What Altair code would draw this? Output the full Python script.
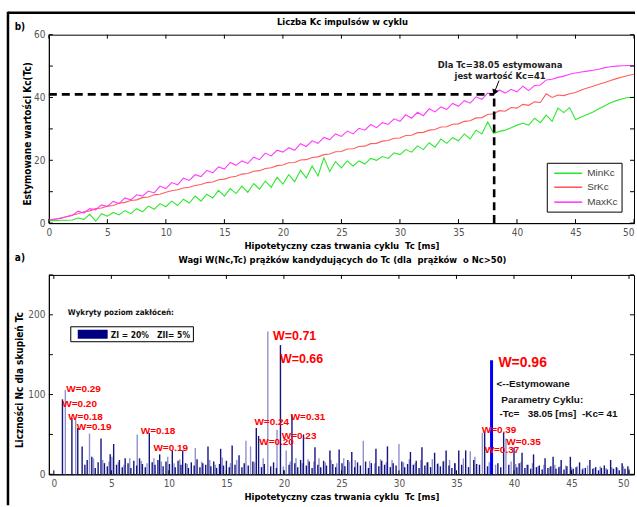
import altair as alt
import pandas as pd

# ---------------- data: upper panel ----------------
TC = [0, 0.5, 1, 1.5, 2, 2.5, 3, 3.5, 4, 4.5, 5, 5.5, 6, 6.5, 7, 7.5, 8, 8.5, 9, 9.5,
      10, 10.5, 11, 11.5, 12, 12.5, 13, 13.5, 14, 14.5, 15, 15.5, 16, 16.5, 17, 17.5, 18, 18.5, 19, 19.5,
      20, 20.5, 21, 21.5, 22, 22.5, 23, 23.5, 24, 24.5, 25, 25.5, 26, 26.5, 27, 27.5, 28, 28.5, 29, 29.5,
      30, 30.5, 31, 31.5, 32, 32.5, 33, 33.5, 34, 34.5, 35, 35.5, 36, 36.5, 37, 37.5, 38, 38.5, 39, 39.5,
      40, 40.5, 41, 41.5, 42, 42.5, 43, 43.5, 44, 44.5, 45, 45.5, 46, 46.5, 47, 47.5, 48, 48.5, 49, 49.5, 50]

MIN_KC = [0.8, 0.8, 0.9, 0.9, 1.0, 1.6, 1.2, 2.8, 0.6, 3.0,
          2.2, 3.4, 2.6, 4.0, 3.0, 4.6, 3.6, 5.4, 4.4, 6.2,
          5.2, 7.0, 5.6, 7.6, 6.4, 8.6, 7.0, 9.2, 8.0, 10.4,
          8.6, 11.0, 9.4, 11.8, 9.8, 12.6, 10.8, 13.4, 11.4, 14.6,
          12.4, 15.4, 13.2, 16.8, 14.4, 18.2, 15.0, 20.8, 16.4, 19.6,
          17.6, 19.8, 18.2, 19.8, 18.8, 20.6, 20.0, 21.2, 20.6, 22.4,
          21.8, 23.4, 22.6, 24.6, 23.4, 25.6, 24.2, 26.8, 25.4, 27.2,
          26.2, 28.4, 26.8, 29.6, 28.4, 32.2, 28.6, 29.2, 29.6, 30.4,
          31.2, 31.8, 31.2, 33.4, 32.0, 34.4, 32.4, 36.6, 35.2, 36.8,
          33.0, 33.8, 34.6, 35.4, 36.4, 37.4, 38.3, 39.0, 39.6, 40.0,
          40.1]

SR_KC = [1.0, 1.2, 1.5, 2.0, 2.6, 3.0, 3.6, 3.9, 4.6, 4.8,
         5.4, 5.6, 6.3, 6.6, 7.2, 7.4, 8.1, 8.3, 9.0, 9.2,
         9.8, 10.3, 10.6, 11.2, 11.4, 12.0, 12.3, 12.9, 13.1, 13.8,
         14.0, 14.6, 14.9, 15.6, 15.8, 16.5, 16.7, 17.4, 17.6, 18.3,
         18.5, 19.2, 19.3, 20.1, 20.2, 20.9, 21.1, 21.8, 22.0, 22.7,
         22.8, 23.6, 23.7, 24.4, 24.5, 25.3, 25.4, 26.1, 26.3, 27.0,
         27.1, 27.9, 28.0, 28.8, 28.9, 29.6, 29.8, 30.6, 30.7, 31.5,
         31.6, 32.4, 32.6, 33.5, 33.6, 34.6, 34.8, 35.8, 35.6, 36.8,
         36.6, 37.8, 37.5, 38.6, 38.4, 41.2, 40.0, 40.8, 40.6, 41.2,
         41.6, 42.4, 43.0, 43.6, 44.2, 44.8, 45.4, 46.0, 46.5, 47.0,
         47.4]

MAX_KC = [1.0, 1.3, 1.6, 2.0, 2.4, 3.8, 3.2, 4.6, 4.2, 5.8,
          5.3, 6.9, 6.2, 8.0, 7.4, 9.0, 8.6, 10.2, 9.6, 11.8,
          11.0, 12.9, 12.2, 14.3, 13.6, 15.4, 14.8, 16.8, 16.0, 17.9,
          17.2, 19.3, 18.4, 19.8, 19.0, 21.0, 20.2, 22.3, 21.4, 23.2,
          22.6, 24.0, 23.2, 25.3, 24.4, 26.2, 25.4, 27.3, 26.6, 28.4,
          27.6, 29.3, 28.4, 30.2, 29.6, 31.4, 30.4, 32.0, 31.4, 33.2,
          32.4, 34.5, 33.4, 35.3, 34.2, 36.4, 35.4, 37.0, 36.2, 38.1,
          37.2, 39.0, 38.2, 40.2, 39.4, 41.4, 41.0, 42.4, 41.4, 42.6,
          41.8, 43.6, 42.2, 43.8, 44.0, 45.6, 45.8, 46.4, 46.8, 47.4,
          47.8, 48.1, 48.4, 48.7, 49.0, 49.5, 49.8, 50.0, 50.1, 50.2,
          50.2]

SERIES = ["MinKc", "SrKc", "MaxKc"]
COLORS = ["#2ee82e", "#ff5c5c", "#ff3dff"]
TC_EST = 38.05
KC_EST = 41

X_TICKS = [0, 5, 10, 15, 20, 25, 30, 35, 40, 45, 50]
Y_TICKS_UP = [0, 10, 20, 30, 40, 50, 60]
Y_TICKS_LO = [0, 50, 100, 150, 200, 250]

ANN_UP_TEXT = ["Dla Tc=38.05 estymowana", "jest wartość Kc=41"]
ANN_UP_X = [38.56, 38.56]
ANN_UP_Y = [50.5, 46.8]
ARROW_TAIL = (38.47, 45.4)
ARROW_HEAD = (38.07, 41.6)

# ---------------- data: lower panel ----------------
DARK_X = [0.75, 1.57, 2.08, 2.46, 2.7, 2.9, 3.3, 3.6, 3.85, 4.1, 4.4, 4.65, 4.9, 5.2, 5.45, 5.7, 5.95,
          6.2, 6.45, 6.7, 6.95, 7.2, 7.45, 7.7, 7.95, 8.3, 8.55, 8.8, 9.05, 9.2, 9.5, 9.75, 10.05,
          10.3, 10.55, 10.8, 11.05, 11.2, 11.45, 11.7, 11.95, 12.2, 12.45, 12.7, 12.95, 13.2, 13.4,
          13.65, 13.9, 14.15, 14.4, 14.5, 14.75, 15.0, 15.25, 15.5, 15.75, 16.1, 16.35, 16.55, 16.9,
          17.3, 17.6, 17.8, 18.05, 18.3, 18.85, 19.1, 19.35, 19.7, 20.0, 20.45, 20.7, 20.95, 21.2,
          21.45, 21.7, 21.95, 22.2, 22.45, 22.7, 22.95, 23.2, 23.45, 23.7, 24.0, 24.25, 24.5, 24.8,
          25.05, 25.3, 25.55, 25.9, 26.15, 26.4, 26.65, 27.1, 27.35, 27.6, 28.0, 28.25, 28.5, 28.75,
          29.0, 29.25, 29.5, 29.75, 30.25, 30.5, 30.75, 31.0, 31.25, 31.5, 31.75, 32.0, 32.25, 32.5,
          32.75, 33.1, 33.35, 33.6, 33.85, 34.1, 34.35, 34.6, 34.85, 35.2, 35.45, 35.8, 36.05, 36.5,
          36.75, 37.0, 37.45, 37.7, 38.6, 38.85, 39.1, 39.55, 40.0, 40.25, 40.45, 40.7, 40.95, 41.2,
          41.45, 41.7, 41.95, 42.2, 42.45, 42.7, 42.95, 43.2, 43.4, 43.65, 43.9, 44.1, 44.35, 44.6,
          44.9, 45.15, 45.4, 45.7, 45.95, 46.2, 46.6, 46.85, 47.1, 47.35, 47.6, 47.85, 48.1, 48.4,
          48.65, 48.9, 49.15, 49.4, 49.65, 49.9]
DARK_N = [94, 71, 58, 35, 12, 18, 22, 8, 15, 45, 14, 10, 25, 38, 12, 18, 9,
          20, 14, 8, 17, 11, 20, 13, 9, 52, 15, 12, 18, 25, 10, 16, 13,
          30, 9, 17, 12, 30, 14, 8, 15, 11, 19, 9, 14, 12, 35,
          10, 16, 8, 13, 32, 11, 17, 9, 36, 12, 24, 9, 14, 11,
          16, 58, 48, 9, 13, 10, 15, 8, 162, 5, 12, 75, 14, 9,
          18, 50, 11, 16, 8, 34, 12, 9, 17, 11, 30, 13, 9, 31,
          14, 10, 18, 28, 9, 15, 11, 16, 8, 14, 32, 10, 17, 12,
          35, 9, 14, 11, 16, 9, 13, 28, 12, 17, 8, 34, 11, 15,
          9, 27, 13, 10, 16, 30, 11, 8, 14, 30, 12, 30, 9, 18,
          13, 12, 54, 10, 14, 9, 52, 12, 33, 9, 14, 27, 8, 12,
          7, 25, 9, 11, 6, 20, 8, 10, 22, 7, 9, 18, 6, 10,
          22, 7, 9, 15, 6, 8, 18, 7, 9, 5, 8, 11, 6, 18,
          7, 9, 5, 14, 7, 10]

LIGHT_X = [1.0, 1.9, 3.1, 3.45, 4.25, 4.8, 5.05, 5.6, 6.1, 6.6, 7.25, 7.6, 8.1, 8.7, 9.35, 9.9,
           10.45, 10.95, 11.6, 12.3, 12.85, 13.55, 14.05, 14.65, 15.35, 15.9, 16.7, 17.1, 17.45,
           18.2, 18.6, 19.4, 19.95, 20.2, 20.55, 21.05, 21.6, 22.1, 22.6, 23.05, 23.6, 24.1, 24.6,
           25.2, 25.7, 26.2, 26.9, 27.45, 27.9, 28.4, 28.9, 29.4, 30.0, 30.4, 30.9, 31.4, 31.9,
           32.4, 32.9, 33.4, 33.9, 34.4, 34.9, 35.6, 36.2, 36.6, 37.25, 37.85, 38.4, 39.3, 39.75,
           40.15, 40.6, 41.1, 41.6, 42.1, 42.6, 43.1, 43.55, 44.0, 44.5, 45.0, 45.5, 46.0, 46.4,
           46.95, 47.5, 48.0, 48.5, 49.0, 49.5, 50.0]
LIGHT_N = [106, 68, 51, 20, 18, 16, 22, 15, 12, 20, 50, 17, 14, 20, 16, 22,
           14, 19, 13, 33, 16, 18, 12, 21, 14, 18, 42, 35, 15,
           20, 179, 56, 10, 30, 16, 20, 14, 19, 16, 20, 15, 18, 14,
           20, 16, 18, 42, 17, 14, 19, 15, 18, 38, 15, 19, 14, 18,
           15, 19, 14, 17, 18, 14, 20, 29, 22, 52, 15, 12, 45, 16,
           13, 15, 12, 14, 10, 12, 9, 12, 10, 11, 9, 10, 8, 11,
           8, 10, 8, 9, 8, 10, 7]

BEST_X = [38.05]
BEST_N = [143]

W_SMALL_TEXT = ["W=0.29", "W=0.20", "W=0.18", "W=0.19", "W=0.18", "W=0.19", "W=0.24",
                "W=0.20", "W=0.31", "W=0.23", "W=0.39", "W=0.37", "W=0.35"]
W_SMALL_X = [1.08, 0.74, 1.25, 2.0, 7.56, 8.66, 17.44, 17.86, 20.59, 19.82, 37.2, 37.45, 39.33]
W_SMALL_Y = [107.5, 88.75, 71.25, 58.75, 53.75, 32.5, 65, 40, 71.25, 47.5, 55, 30, 40]
W_BIG_TEXT = ["W=0.71", "W=0.66"]
W_BIG_X = [19.05, 19.65]
W_BIG_Y = [173.75, 145]
W_BEST_TEXT = ["W=0.96"]
W_BEST_X = [38.65]
W_BEST_Y = [140]

NB = "\u00a0"
ANN_LO_TEXT = ["<--Estymowane", "Parametry Cyklu:", "-Tc=" + NB * 3 + "38.05 [ms]" + NB * 2 + "-Kc= 41"]
ANN_LO_X = [38.48, 38.9, 38.73]
ANN_LO_Y = [113.75, 93.75, 75]

NOISE_TITLE = "Wykryty poziom zakłóceń:"
NOISE_TEXT = "ZI = 20%" + NB * 3 + "ZII= 5%"

TITLE_UP = "Liczba Kc impulsów w cyklu"
TITLE_LO = "Wagi W(Nc,Tc) prążków kandydujących do Tc (dla" + NB * 2 + "prążków" + NB * 2 + "o Nc>50)"
XTITLE = "Hipotetyczny czas trwania cyklu" + NB * 2 + "Tc [ms]"
YTITLE_UP = "Estymowane wartości Kc(Tc)"
YTITLE_LO = "Liczności Nc dla skupień Tc"

# ---------------- styling ----------------
FN = "Liberation Sans Narrow, DejaVu Sans Condensed, Arial Narrow, sans-serif"
FA = "Liberation Sans, Arial, sans-serif"
W, H1, H2 = 587, 189, 200
DARK = "#14147e"
LIGHT = "#9191cf"


def xaxis():
    return alt.Axis(values=X_TICKS, title=XTITLE, ticks=False, grid=False, domainColor="black",
                    labelFont=FN, labelFontSize=10, labelColor="#555", labelPadding=4,
                    labelFlush=False, labelOverlap=False,
                    labelAlign={"condition": {"test": "datum.value == 50", "value": "right"},
                                "value": "center"},
                    titleFont=FN, titleFontSize=9.5, titleFontWeight="bold", titleColor="black",
                    titlePadding=3)


def yaxis(vals, title, tx, ty):
    return alt.Axis(values=vals, title=title, ticks=False, grid=False, domainColor="black",
                    labelFont=FN, labelFontSize=10, labelColor="#555", labelPadding=4,
                    titleFont=FN, titleFontSize=10, titleFontWeight="bold", titleColor="black",
                    titleX=tx, titleY=ty, titleBaseline="middle", titleAlign="center")


def inside_ticks(yfield, yvals, h):
    xt = pd.DataFrame({"Tc": X_TICKS})
    yt = pd.DataFrame({yfield: yvals})
    b = alt.Chart(xt).mark_rule(color="black").encode(x="Tc:Q", y=alt.value(h), y2=alt.value(h - 4))
    t = alt.Chart(xt).mark_rule(color="black").encode(x="Tc:Q", y=alt.value(0), y2=alt.value(4))
    l = alt.Chart(yt).mark_rule(color="black").encode(y=f"{yfield}:Q", x=alt.value(0), x2=alt.value(4))
    r = alt.Chart(yt).mark_rule(color="black").encode(y=f"{yfield}:Q", x=alt.value(W - 4), x2=alt.value(W))
    return [b, t, l, r]


def one(t):
    return pd.DataFrame({"t": [t]})


def title_text(t, y):
    return alt.Chart(one(t)).mark_text(
        font=FN, fontSize=9.4, fontWeight="bold", color="black", align="center", baseline="middle").encode(
        x=alt.value(W / 2 + 1), y=alt.value(y), text="t:N")


xs = alt.Scale(domain=[0, 50], nice=False, zero=False)

# ---------------- upper chart ----------------
n = len(TC)
line_df = pd.DataFrame({
    "Tc": TC * 3,
    "Kc": MIN_KC + SR_KC + MAX_KC,
    "seria": [SERIES[0]] * n + [SERIES[1]] * n + [SERIES[2]] * n,
})

lines = alt.Chart(line_df).mark_line(strokeWidth=1.1).encode(
    x=alt.X("Tc:Q", scale=xs, axis=xaxis()),
    y=alt.Y("Kc:Q", scale=alt.Scale(domain=[0, 60], nice=False),
            axis=yaxis(Y_TICKS_UP, YTITLE_UP, -21, 99)),
    color=alt.Color("seria:N", scale=alt.Scale(domain=SERIES, range=COLORS), legend=None),
)

hdash = alt.Chart(pd.DataFrame({"Tc": [0], "Tc2": [TC_EST], "Kc": [KC_EST]})).mark_rule(
    color="black", strokeWidth=2.6, strokeDash=[8, 5]).encode(x="Tc:Q", x2="Tc2:Q", y="Kc:Q")
vdash = alt.Chart(pd.DataFrame({"Tc": [TC_EST], "Kc": [0], "Kc2": [KC_EST]})).mark_rule(
    color="black", strokeWidth=2.6, strokeDash=[8, 5]).encode(x="Tc:Q", y="Kc:Q", y2="Kc2:Q")
arrow_line = alt.Chart(pd.DataFrame({"Tc": [ARROW_TAIL[0]], "Tc2": [ARROW_HEAD[0]],
                                     "Kc": [ARROW_TAIL[1]], "Kc2": [ARROW_HEAD[1]]})).mark_rule(
    color="black", strokeWidth=1).encode(x="Tc:Q", x2="Tc2:Q", y="Kc:Q", y2="Kc2:Q")
arrow_head = alt.Chart(pd.DataFrame({"Tc": [ARROW_HEAD[0]], "Kc": [ARROW_HEAD[1]]})).mark_point(
    shape="triangle-up", angle=203, size=45, filled=True, color="black", opacity=1).encode(x="Tc:Q", y="Kc:Q")
ann_up = alt.Chart(pd.DataFrame({"Tc": ANN_UP_X, "Kc": ANN_UP_Y, "t": ANN_UP_TEXT})).mark_text(
    font=FN, fontSize=9.4, fontWeight="bold", color="#222", align="center", baseline="middle").encode(
    x="Tc:Q", y="Kc:Q", text="t:N")

# legend drawn by hand (box, line samples, labels)
LEG_ROWS = [139, 153, 168]
legend_layers = [alt.Chart(one("")).mark_rect(fill="white", stroke="black", strokeWidth=1).encode(
    x=alt.value(500), x2=alt.value(575), y=alt.value(129), y2=alt.value(178))]
for name, col, yy in zip(SERIES, COLORS, LEG_ROWS):
    legend_layers.append(alt.Chart(one(name)).mark_rule(color=col, strokeWidth=1.6).encode(
        x=alt.value(507), x2=alt.value(535), y=alt.value(yy)))
    legend_layers.append(alt.Chart(one(name)).mark_text(
        font=FA, fontSize=10, color="#444", align="left", baseline="middle").encode(
        x=alt.value(540), y=alt.value(yy), text="t:N"))

frame_top = alt.Chart(one("")).mark_rule(color="black", strokeWidth=2.5).encode(
    x=alt.value(-41), x2=alt.value(588), y=alt.value(-22))
frame_left = alt.Chart(one("")).mark_rule(color="black", strokeWidth=2.5).encode(
    x=alt.value(-41), y=alt.value(-23), y2=alt.value(472))
lab_b = alt.Chart(one("b)")).mark_text(
    font=FN, fontSize=10, fontWeight="bold", color="black", align="center", baseline="middle").encode(
    x=alt.value(-29), y=alt.value(-8), text="t:N")

upper = alt.layer(lines, hdash, vdash, arrow_line, arrow_head, ann_up, *legend_layers,
                  *inside_ticks("Kc", Y_TICKS_UP, H1), frame_top, frame_left, lab_b,
                  title_text(TITLE_UP, -13)).properties(width=W, height=H1)

# ---------------- lower chart ----------------
ys_lo = alt.Scale(domain=[0, 250], nice=False)
light_bars = alt.Chart(pd.DataFrame({"Tc": LIGHT_X, "Nc": LIGHT_N})).mark_bar(
    orient="vertical", size=1.4, color=LIGHT).encode(
    x=alt.X("Tc:Q", scale=xs, axis=xaxis()),
    y=alt.Y("Nc:Q", scale=ys_lo, axis=yaxis(Y_TICKS_LO, YTITLE_LO, -29, 105)))
dark_bars = alt.Chart(pd.DataFrame({"Tc": DARK_X, "Nc": DARK_N})).mark_bar(
    orient="vertical", size=1.4, color=DARK).encode(x="Tc:Q", y="Nc:Q")
best_bar = alt.Chart(pd.DataFrame({"Tc": BEST_X, "Nc": BEST_N})).mark_bar(
    orient="vertical", size=3, color="#0000ff").encode(x="Tc:Q", y="Nc:Q")

w_small = alt.Chart(pd.DataFrame({"Tc": W_SMALL_X, "Nc": W_SMALL_Y, "t": W_SMALL_TEXT})).mark_text(
    font=FA, fontSize=10, fontWeight="bold", color="#ff0000", align="left", baseline="middle").encode(
    x="Tc:Q", y="Nc:Q", text="t:N")
w_big = alt.Chart(pd.DataFrame({"Tc": W_BIG_X, "Nc": W_BIG_Y, "t": W_BIG_TEXT})).mark_text(
    font=FA, fontSize=12.5, fontWeight="bold", color="#ff0000", align="left", baseline="middle").encode(
    x="Tc:Q", y="Nc:Q", text="t:N")
w_best = alt.Chart(pd.DataFrame({"Tc": W_BEST_X, "Nc": W_BEST_Y, "t": W_BEST_TEXT})).mark_text(
    font=FA, fontSize=14, fontWeight="bold", color="#ff0000", align="left", baseline="middle").encode(
    x="Tc:Q", y="Nc:Q", text="t:N")
ann_lo = alt.Chart(pd.DataFrame({"Tc": ANN_LO_X, "Nc": ANN_LO_Y, "t": ANN_LO_TEXT})).mark_text(
    font=FA, fontSize=10, fontWeight="bold", color="#111", align="left", baseline="middle").encode(
    x="Tc:Q", y="Nc:Q", text="t:N")

noise_title = alt.Chart(one(NOISE_TITLE)).mark_text(
    font=FN, fontSize=8, fontWeight="bold", color="#111", align="left", baseline="middle").encode(
    x=alt.value(19), y=alt.value(38), text="t:N")
noise_box = alt.Chart(one("")).mark_rect(fill="white", stroke="black", strokeWidth=1).encode(
    x=alt.value(22), x2=alt.value(145), y=alt.value(52), y2=alt.value(67))
noise_swatch = alt.Chart(one("")).mark_rect(fill="#000080").encode(
    x=alt.value(29), x2=alt.value(59), y=alt.value(55), y2=alt.value(64))
noise_text = alt.Chart(one(NOISE_TEXT)).mark_text(
    font=FN, fontSize=8.5, fontWeight="bold", color="#111", align="left", baseline="middle").encode(
    x=alt.value(62), y=alt.value(60), text="t:N")
lab_a = alt.Chart(one("a)")).mark_text(
    font=FN, fontSize=10, fontWeight="bold", color="black", align="center", baseline="middle").encode(
    x=alt.value(-29), y=alt.value(-17), text="t:N")

lower = alt.layer(light_bars, dark_bars, best_bar, w_small, w_big, w_best, ann_lo,
                  noise_title, noise_box, noise_swatch, noise_text,
                  *inside_ticks("Nc", Y_TICKS_LO, H2), lab_a,
                  title_text(TITLE_LO, -15)).properties(width=W, height=H2)

chart = alt.vconcat(upper, lower, spacing=52, bounds="flush").properties(
    padding={"left": 6, "top": 9, "right": 0, "bottom": 0},
    background="white",
).configure_view(stroke="black", strokeWidth=1)

chart.save("out.html", embed_options={"renderer": "svg", "actions": False})
